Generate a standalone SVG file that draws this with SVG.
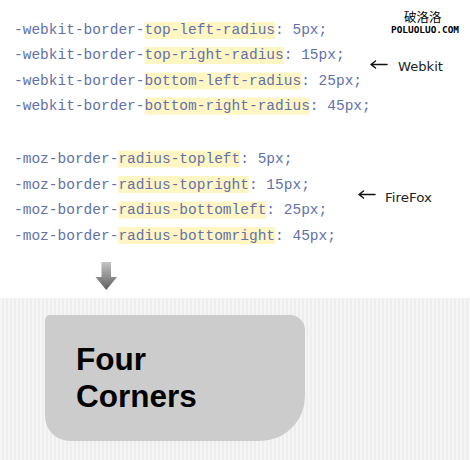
<svg xmlns="http://www.w3.org/2000/svg" width="470" height="460" viewBox="0 0 470 460">
<defs>
<style>
.code{font-family:"Liberation Mono","Courier New",monospace;font-size:14.5px;fill:#6272a8}
.hl{fill:#fff6c4}
.note{font-family:"DejaVu Sans","Liberation Sans",sans-serif;font-size:12px;fill:#222}
.big{font-family:"Liberation Sans",Arial,sans-serif;font-weight:bold;font-size:31.5px;fill:#000}
.arr{stroke:#111;stroke-width:1.5;fill:none;stroke-linecap:round;stroke-linejoin:round}
</style>
<pattern id="stripes" x="0" y="0" width="4" height="10" patternUnits="userSpaceOnUse">
<rect width="4" height="10" fill="#eeeeee"/>
<rect width="2" height="10" fill="#f5f5f5"/>
</pattern>
<linearGradient id="dg" x1="0" y1="0" x2="0" y2="1">
<stop offset="0" stop-color="#c4c4c4"/>
<stop offset="1" stop-color="#5e5e5e"/>
</linearGradient>
</defs>
<rect width="470" height="460" fill="#ffffff"/>

<g id="watermark">
<text x="404" y="22" font-family="'Noto Sans CJK SC',sans-serif" font-size="12.5" fill="#000">破洛洛</text>
<text x="391" y="33" font-family="'DejaVu Sans Mono',monospace" font-weight="bold" font-size="9" fill="#000" textLength="68" lengthAdjust="spacingAndGlyphs">POLUOLUO.COM</text>
</g>

<g id="webkit-code">
<rect class="hl" x="144.5" y="22" width="130.5" height="17"/>
<rect class="hl" x="144.5" y="47" width="139.2" height="17"/>
<rect class="hl" x="144.5" y="72.5" width="156.6" height="17"/>
<rect class="hl" x="144.5" y="97.5" width="165.3" height="17"/>
<text class="code" x="14" y="34">-webkit-border-top-left-radius: 5px;</text>
<text class="code" x="14" y="59">-webkit-border-top-right-radius: 15px;</text>
<text class="code" x="14" y="84.5">-webkit-border-bottom-left-radius: 25px;</text>
<text class="code" x="14" y="110">-webkit-border-bottom-right-radius: 45px;</text>
</g>

<g id="moz-code">
<rect class="hl" x="118.4" y="150.5" width="121.8" height="17"/>
<rect class="hl" x="118.4" y="176" width="130.5" height="17"/>
<rect class="hl" x="118.4" y="201.5" width="147.9" height="17"/>
<rect class="hl" x="118.4" y="227" width="156.6" height="17"/>
<text class="code" x="14" y="163">-moz-border-radius-topleft: 5px;</text>
<text class="code" x="14" y="188.5">-moz-border-radius-topright: 15px;</text>
<text class="code" x="14" y="214">-moz-border-radius-bottomleft: 25px;</text>
<text class="code" x="14" y="239.5">-moz-border-radius-bottomright: 45px;</text>
</g>

<g id="webkit-label">
<text class="note" x="398" y="70.5" textLength="45" lengthAdjust="spacingAndGlyphs">Webkit</text>
</g>
<g id="firefox-label">
<text class="note" x="385" y="201.5" textLength="47" lengthAdjust="spacingAndGlyphs">FireFox</text>
</g>

<g id="connectors">
<path class="arr" d="M387,64.5 H371 M375.5,61 L371,64.5 L375.5,68"/>
<path class="arr" d="M375,194.5 H359 M363.5,191 L359,194.5 L363.5,198"/>
<path d="M101.5,262 H111 V277 H117 L106.3,290 L95.5,277 H101.5 Z" fill="url(#dg)"/>
</g>

<g id="result">
<rect x="0" y="298" width="470" height="162" fill="url(#stripes)"/>
<path d="M50,315 H290 A15,15 0 0 1 305,330 V396 A45,45 0 0 1 260,441 H70 A25,25 0 0 1 45,416 V320 A5,5 0 0 1 50,315 Z" fill="#cccccc"/>
<text class="big" x="76" y="370">Four</text>
<text class="big" x="76" y="407">Corners</text>
</g>
</svg>
